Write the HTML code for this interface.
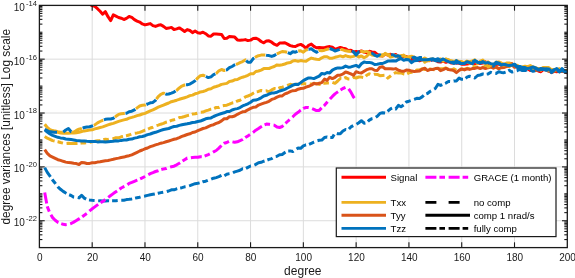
<!DOCTYPE html>
<html><head><meta charset="utf-8"><title>degree variances</title>
<style>
html,body{margin:0;padding:0;background:#fff;}
body{width:575px;height:278px;overflow:hidden;font-family:"Liberation Sans",sans-serif;}
svg{display:block;font-family:"Liberation Sans",sans-serif;}
text{filter:grayscale(1);}
</style></head><body>
<svg width="575" height="278" viewBox="0 0 575 278">
<rect x="0" y="0" width="575" height="278" fill="#ffffff"/>
<defs><clipPath id="c"><rect x="39.40" y="5.40" width="527.90" height="242.20"/></clipPath></defs>
<g stroke="#dcdcdc" stroke-width="1" fill="none">
<line x1="92.19" y1="5.40" x2="92.19" y2="247.60"/>
<line x1="144.98" y1="5.40" x2="144.98" y2="247.60"/>
<line x1="197.77" y1="5.40" x2="197.77" y2="247.60"/>
<line x1="250.56" y1="5.40" x2="250.56" y2="247.60"/>
<line x1="303.35" y1="5.40" x2="303.35" y2="247.60"/>
<line x1="356.14" y1="5.40" x2="356.14" y2="247.60"/>
<line x1="408.93" y1="5.40" x2="408.93" y2="247.60"/>
<line x1="461.72" y1="5.40" x2="461.72" y2="247.60"/>
<line x1="514.51" y1="5.40" x2="514.51" y2="247.60"/>
<line x1="39.40" y1="59.16" x2="567.30" y2="59.16"/>
<line x1="39.40" y1="113.02" x2="567.30" y2="113.02"/>
<line x1="39.40" y1="166.88" x2="567.30" y2="166.88"/>
<line x1="39.40" y1="220.74" x2="567.30" y2="220.74"/>
</g>
<g clip-path="url(#c)" fill="none" stroke-linejoin="round" stroke-linecap="butt">
<path d="M86.9 1.8 L89.6 4.1 L92.2 5.6 L94.8 6.4 L97.5 8.7 L100.1 11.3 L102.7 14.2 L105.4 11.7 L108.0 16.7 L110.7 20.6 L113.3 14.9 L115.9 16.2 L118.6 17.5 L121.2 18.2 L123.9 19.5 L126.5 18.4 L129.1 16.5 L131.8 17.4 L134.4 19.6 L137.1 21.1 L139.7 22.1 L142.3 23.9 L145.0 24.9 L147.6 24.3 L150.3 23.6 L152.9 25.6 L155.5 26.4 L158.2 25.3 L160.8 24.8 L163.5 26.4 L166.1 28.4 L168.7 28.1 L171.4 27.4 L174.0 29.5 L176.7 28.9 L179.3 27.9 L181.9 29.5 L184.6 31.5 L187.2 29.6 L189.9 30.5 L192.5 32.6 L195.1 31.0 L197.8 32.7 L200.4 33.2 L203.0 32.2 L205.7 33.7 L208.3 35.9 L211.0 36.2 L213.6 34.0 L216.2 34.1 L218.9 34.2 L221.5 34.4 L224.2 38.5 L226.8 38.2 L229.4 36.5 L232.1 36.8 L234.7 37.1 L237.4 39.9 L240.0 40.2 L242.6 40.1 L245.3 39.6 L247.9 40.6 L250.6 40.1 L253.2 38.5 L255.8 38.2 L258.5 39.3 L261.1 41.5 L263.8 42.8 L266.4 41.1 L269.0 40.8 L271.7 42.2 L274.3 44.2 L277.0 45.3 L279.6 43.1 L282.2 43.1 L284.9 42.7 L287.5 44.1 L290.2 45.6 L292.8 46.3 L295.4 46.5 L298.1 45.1 L300.7 44.4 L303.3 45.9 L306.0 48.2 L308.6 45.3 L311.3 44.1 L313.9 46.4 L316.5 47.8 L319.2 47.4 L321.8 47.8 L324.5 47.7 L327.1 47.0 L329.7 46.6 L332.4 47.3 L335.0 49.3 L337.7 48.3 L340.3 47.4 L342.9 48.2 L345.6 48.8 L348.2 50.6 L350.9 50.3 L353.5 51.9 L356.1 51.6 L358.8 52.0 L361.4 51.0 L364.1 52.1 L366.7 52.7 L369.3 51.3 L372.0 51.9 L374.6 52.3 L377.3 54.4 L379.9 55.8 L382.5 55.9 L385.2 54.2 L387.8 55.1 L390.5 54.2 L393.1 55.6 L395.7 54.5 L398.4 56.8 L401.0 56.4 L403.7 56.3 L406.3 56.4 L408.9 58.7 L411.6 59.9 L414.2 57.3 L416.8 60.1 L419.5 60.7 L422.1 59.9 L424.8 58.9 L427.4 60.7 L430.0 60.1 L432.7 60.1 L435.3 60.0 L438.0 61.7 L440.6 62.1 L443.2 61.2 L445.9 62.3 L448.5 61.3 L451.2 63.1 L453.8 62.9 L456.4 63.0 L459.1 63.3 L461.7 64.2 L464.4 64.2 L467.0 64.1 L469.6 63.5 L472.3 63.1 L474.9 63.4 L477.6 63.1 L480.2 63.6 L482.8 63.1 L485.5 61.9 L488.1 65.4 L490.8 67.1 L493.4 66.2 L496.0 64.6 L498.7 64.1 L501.3 65.1 L504.0 66.3 L506.6 65.4 L509.2 65.5 L511.9 65.2 L514.5 66.6 L517.1 67.0 L519.8 68.2 L522.4 68.1 L525.1 69.1 L527.7 68.8 L530.3 70.5 L533.0 68.4 L535.6 69.8 L538.3 71.0 L540.9 71.7 L543.5 69.4 L546.2 69.7 L548.8 70.5 L551.5 72.4 L554.1 71.3 L556.7 71.7 L559.4 70.9 L562.0 70.5 L564.7 71.9 L567.3 72.7" stroke="#FF0000" stroke-width="3.0"/>
<path d="M44.7 124.2 L47.3 127.5 L50.0 129.6 L52.6 130.6 L55.2 131.8 L57.9 132.4 L60.5 133.1 L63.2 133.2 L65.8 133.3 L68.4 133.2 L71.1 133.1 L73.7 133.1 L76.4 132.7 L79.0 132.3 L81.6 131.5 L84.3 130.9 L86.9 130.5 L89.6 130.0 L92.2 129.8 L94.8 128.9 L97.5 128.2 L100.1 127.5 L102.7 126.9 L105.4 125.9 L108.0 124.9 L110.7 124.0 L113.3 123.4 L115.9 122.4 L118.6 121.4 L121.2 120.6 L123.9 119.9 L126.5 119.3 L129.1 118.1 L131.8 117.4 L134.4 116.6 L137.1 115.6 L139.7 115.0 L142.3 114.0 L145.0 113.4 L147.6 112.1 L150.3 110.8 L152.9 109.9 L155.5 108.6 L158.2 107.2 L160.8 106.2 L163.5 105.1 L166.1 104.0 L168.7 103.0 L171.4 101.7 L174.0 101.0 L176.7 100.2 L179.3 99.3 L181.9 98.5 L184.6 97.7 L187.2 96.9 L189.9 95.6 L192.5 95.1 L195.1 93.8 L197.8 93.1 L200.4 91.9 L203.0 91.5 L205.7 90.6 L208.3 89.2 L211.0 88.7 L213.6 87.2 L216.2 86.5 L218.9 85.6 L221.5 84.4 L224.2 83.9 L226.8 83.4 L229.4 81.5 L232.1 81.1 L234.7 79.8 L237.4 79.5 L240.0 78.1 L242.6 77.2 L245.3 76.4 L247.9 75.3 L250.6 73.7 L253.2 73.8 L255.8 71.5 L258.5 71.0 L261.1 70.1 L263.8 68.6 L266.4 68.5 L269.0 68.5 L271.7 67.4 L274.3 66.5 L277.0 64.9 L279.6 65.2 L282.2 64.7 L284.9 64.0 L287.5 62.9 L290.2 62.6 L292.8 61.0 L295.4 60.6 L298.1 61.2 L300.7 60.6 L303.3 61.0 L306.0 61.2 L308.6 59.5 L311.3 58.1 L313.9 58.8 L316.5 59.3 L319.2 59.5 L321.8 57.8 L324.5 56.7 L327.1 56.7 L329.7 58.2 L332.4 58.2 L335.0 57.3 L337.7 56.6 L340.3 55.9 L342.9 56.8 L345.6 55.6 L348.2 56.6 L350.9 56.9 L353.5 56.4 L356.1 55.0 L358.8 57.0 L361.4 55.9 L364.1 57.8 L366.7 56.3 L369.3 53.4 L372.0 55.1 L374.6 55.6 L377.3 55.6 L379.9 55.9 L382.5 54.6 L385.2 54.1 L387.8 54.7 L390.5 57.1 L393.1 56.4 L395.7 55.3 L398.4 56.5 L401.0 55.6 L403.7 55.7 L406.3 57.5 L408.9 56.8 L411.6 56.2 L414.2 57.3 L416.8 58.5 L419.5 58.7 L422.1 59.9 L424.8 58.1 L427.4 59.5 L430.0 59.3 L432.7 59.0 L435.3 60.1 L438.0 60.0 L440.6 58.9 L443.2 61.0 L445.9 58.9 L448.5 60.4 L451.2 60.7 L453.8 61.5 L456.4 60.7 L459.1 61.5 L461.7 61.6 L464.4 62.8 L467.0 61.1 L469.6 61.7 L472.3 61.0 L474.9 59.9 L477.6 63.6 L480.2 61.2 L482.8 60.1 L485.5 63.1 L488.1 61.8 L490.8 64.1 L493.4 64.8 L496.0 62.3 L498.7 62.0 L501.3 63.0 L504.0 64.3 L506.6 63.0 L509.2 63.0 L511.9 63.9 L514.5 65.5 L517.1 65.9 L519.8 67.5 L522.4 67.0 L525.1 66.2 L527.7 66.7 L530.3 65.6 L533.0 67.0 L535.6 67.6 L538.3 68.8 L540.9 68.8 L543.5 67.4 L546.2 67.4 L548.8 67.6 L551.5 69.6 L554.1 69.9 L556.7 69.8 L559.4 68.7 L562.0 71.0 L564.7 70.8 L567.3 70.5" stroke="#EDB120" stroke-width="3.0"/>
<path d="M44.7 136.5 L47.3 138.2 L50.0 139.3 L52.6 140.6 L55.2 141.2 L57.9 141.7 L60.5 142.5 L63.2 143.2 L65.8 143.5 L68.4 143.3 L71.1 143.6 L73.7 143.4 L76.4 143.5 L79.0 143.4 L81.6 143.0 L84.3 143.0 L86.9 142.5 L89.6 142.4 L92.2 141.8 L94.8 141.3 L97.5 140.7 L100.1 140.4 L102.7 139.9 L105.4 139.2 L108.0 139.4 L110.7 138.8 L113.3 138.6 L115.9 137.8 L118.6 137.8 L121.2 136.8 L123.9 136.2 L126.5 135.7 L129.1 135.0 L131.8 133.8 L134.4 133.3 L137.1 132.9 L139.7 132.4 L142.3 131.3 L145.0 130.1 L147.6 129.3 L150.3 128.0 L152.9 127.2 L155.5 125.9 L158.2 125.1 L160.8 124.2 L163.5 123.4 L166.1 122.2 L168.7 121.5 L171.4 120.4 L174.0 119.7 L176.7 118.8 L179.3 117.6 L181.9 117.2 L184.6 116.5 L187.2 115.6 L189.9 115.1 L192.5 114.1 L195.1 113.8 L197.8 113.1 L200.4 112.3 L203.0 112.1 L205.7 110.9 L208.3 110.1 L211.0 109.1 L213.6 108.6 L216.2 107.5 L218.9 107.4 L221.5 106.0 L224.2 105.5 L226.8 105.2 L229.4 104.2 L232.1 103.0 L234.7 102.5 L237.4 101.0 L240.0 100.3 L242.6 98.7 L245.3 96.9 L247.9 96.0 L250.6 94.9 L253.2 93.2 L255.8 91.8 L258.5 91.4 L261.1 90.5 L263.8 91.1 L266.4 90.8 L269.0 91.8 L271.7 89.9 L274.3 88.6 L277.0 89.0 L279.6 87.8 L282.2 87.2 L284.9 86.4 L287.5 85.3 L290.2 84.3 L292.8 84.9 L295.4 84.6 L298.1 84.0 L300.7 84.0 L303.3 83.5 L306.0 84.0 L308.6 84.2 L311.3 84.0 L313.9 83.9 L316.5 83.4 L319.2 84.4 L321.8 83.2 L324.5 83.3 L327.1 82.9 L329.7 83.0 L332.4 82.3 L335.0 83.3 L337.7 81.0 L340.3 78.5 L342.9 78.8 L345.6 77.6 L348.2 79.0 L350.9 79.1 L353.5 77.4 L356.1 78.0 L358.8 77.0 L361.4 77.1 L364.1 77.6 L366.7 75.3 L369.3 73.8 L372.0 74.9 L374.6 74.2 L377.3 74.4 L379.9 75.7 L382.5 75.5 L385.2 75.3 L387.8 78.1 L390.5 76.0 L393.1 73.9 L395.7 72.6 L398.4 73.1 L401.0 72.8 L403.7 74.0 L406.3 74.4 L408.9 72.8 L411.6 72.2 L414.2 71.4 L416.8 70.0 L419.5 69.9 L422.1 68.9 L424.8 69.5 L427.4 68.8 L430.0 69.0 L432.7 69.5 L435.3 70.0 L438.0 70.0 L440.6 68.7 L443.2 68.7 L445.9 68.0 L448.5 69.3 L451.2 70.1 L453.8 68.8 L456.4 70.3 L459.1 69.3 L461.7 69.2 L464.4 69.2 L467.0 68.3 L469.6 68.9 L472.3 66.3 L474.9 66.7 L477.6 67.2 L480.2 66.4 L482.8 67.6 L485.5 66.1 L488.1 67.3 L490.8 65.9 L493.4 66.9 L496.0 67.3 L498.7 68.5 L501.3 67.4 L504.0 67.5 L506.6 65.6 L509.2 66.7 L511.9 64.8 L514.5 65.3 L517.1 65.3 L519.8 67.1 L522.4 68.1 L525.1 67.0 L527.7 67.5 L530.3 67.8 L533.0 68.5 L535.6 68.9 L538.3 68.5 L540.9 70.2 L543.5 67.3 L546.2 68.1 L548.8 70.0 L551.5 71.3 L554.1 70.5 L556.7 70.2 L559.4 70.2 L562.0 70.2 L564.7 71.4 L567.3 71.2" stroke="#EDB120" stroke-width="3.0" stroke-dasharray="11 3 5.6 3.6" stroke-dashoffset="0"/>
<path d="M44.7 149.6 L47.3 153.3 L50.0 155.9 L52.6 157.1 L55.2 158.4 L57.9 159.7 L60.5 160.4 L63.2 161.3 L65.8 162.1 L68.4 162.6 L71.1 162.8 L73.7 163.3 L76.4 163.6 L79.0 164.5 L81.6 162.4 L84.3 162.8 L86.9 163.5 L89.6 163.4 L92.2 162.7 L94.8 162.7 L97.5 162.1 L100.1 161.7 L102.7 161.2 L105.4 160.8 L108.0 160.5 L110.7 159.9 L113.3 159.3 L115.9 158.6 L118.6 158.1 L121.2 157.5 L123.9 157.1 L126.5 156.3 L129.1 155.7 L131.8 154.8 L134.4 153.6 L137.1 152.3 L139.7 151.0 L142.3 150.0 L145.0 148.8 L147.6 148.0 L150.3 146.7 L152.9 145.8 L155.5 144.9 L158.2 144.1 L160.8 143.2 L163.5 142.6 L166.1 141.8 L168.7 141.0 L171.4 140.1 L174.0 139.3 L176.7 138.7 L179.3 137.6 L181.9 136.4 L184.6 135.5 L187.2 134.5 L189.9 133.8 L192.5 132.5 L195.1 132.0 L197.8 130.7 L200.4 129.6 L203.0 128.5 L205.7 127.9 L208.3 126.6 L211.0 125.4 L213.6 124.7 L216.2 123.4 L218.9 122.5 L221.5 120.9 L224.2 118.8 L226.8 118.7 L229.4 116.7 L232.1 116.8 L234.7 116.0 L237.4 114.3 L240.0 113.0 L242.6 111.8 L245.3 111.4 L247.9 109.8 L250.6 108.4 L253.2 107.3 L255.8 107.0 L258.5 105.1 L261.1 104.2 L263.8 103.2 L266.4 102.3 L269.0 101.3 L271.7 99.4 L274.3 98.6 L277.0 97.2 L279.6 96.1 L282.2 95.9 L284.9 93.9 L287.5 93.0 L290.2 91.6 L292.8 90.7 L295.4 90.6 L298.1 89.2 L300.7 88.5 L303.3 88.3 L306.0 87.1 L308.6 86.3 L311.3 85.2 L313.9 83.3 L316.5 84.1 L319.2 83.3 L321.8 82.6 L324.5 79.1 L327.1 80.4 L329.7 77.3 L332.4 78.6 L335.0 77.3 L337.7 75.2 L340.3 75.2 L342.9 74.0 L345.6 72.0 L348.2 72.8 L350.9 73.9 L353.5 75.3 L356.1 71.7 L358.8 72.6 L361.4 73.1 L364.1 71.3 L366.7 69.7 L369.3 68.8 L372.0 68.8 L374.6 70.2 L377.3 70.4 L379.9 67.2 L382.5 66.7 L385.2 68.8 L387.8 68.7 L390.5 68.8 L393.1 69.1 L395.7 68.6 L398.4 70.2 L401.0 70.9 L403.7 71.3 L406.3 70.1 L408.9 70.2 L411.6 71.1 L414.2 71.5 L416.8 71.3 L419.5 71.0 L422.1 69.2 L424.8 68.2 L427.4 70.5 L430.0 69.5 L432.7 69.5 L435.3 68.6 L438.0 68.2 L440.6 70.7 L443.2 69.7 L445.9 68.2 L448.5 69.6 L451.2 69.9 L453.8 70.6 L456.4 72.6 L459.1 70.4 L461.7 68.9 L464.4 69.9 L467.0 68.8 L469.6 69.4 L472.3 68.6 L474.9 68.4 L477.6 67.6 L480.2 68.5 L482.8 67.6 L485.5 68.6 L488.1 67.7 L490.8 66.9 L493.4 68.2 L496.0 67.0 L498.7 68.8 L501.3 67.7 L504.0 67.4 L506.6 66.5 L509.2 65.8 L511.9 63.7 L514.5 67.3 L517.1 66.4 L519.8 68.6 L522.4 67.5 L525.1 68.2 L527.7 68.4 L530.3 68.1 L533.0 69.4 L535.6 70.5 L538.3 70.0 L540.9 69.0 L543.5 69.0 L546.2 69.7 L548.8 71.4 L551.5 72.1 L554.1 71.6 L556.7 70.4 L559.4 71.7 L562.0 71.2 L564.7 71.4 L567.3 73.0" stroke="#D95319" stroke-width="3.0"/>
<path d="M51.9 130.3 L52.6 130.8 L55.2 131.0 L57.9 131.7 L60.5 132.3 L62.5 132.2 M72.1 131.9 L73.7 132.3 L76.4 130.4 L79.0 129.1 L81.6 128.4 L81.9 128.3 M93.8 125.3 L94.8 124.9 L97.5 122.9 L100.1 121.5 L102.7 120.3 L103.3 120.1 M114.9 117.1 L115.9 116.3 L118.6 114.4 L121.2 113.8 L123.9 113.4 L124.8 113.3 M136.0 108.7 L137.1 107.9 L139.7 106.0 L142.3 105.3 L145.0 105.1 L145.8 104.8 M156.4 99.2 L158.2 96.6 L160.8 94.3 L163.5 93.2 L164.8 93.7 M176.2 90.6 L176.7 90.3 L179.3 87.9 L181.9 86.1 L184.6 85.0 L185.3 84.9 M196.1 79.7 L197.8 77.9 L200.4 75.7 L203.0 75.2 L205.1 76.2 M216.0 73.6 L216.2 73.5 L218.9 70.8 L221.5 69.5 L224.2 70.5 L225.2 70.3 M235.9 64.4 L237.4 64.0 L240.0 62.6 L242.6 61.6 L245.3 59.9 L245.5 60.1 M254.9 57.5 L255.8 56.9 L258.5 55.7 L261.1 55.1 L263.8 54.9 L265.3 55.1 M276.8 53.9 L277.0 53.8 L279.6 52.7 L282.2 51.5 L284.9 51.7 L287.1 52.3 M298.2 51.1 L300.7 50.8 L303.3 52.2 L306.0 49.9 L307.8 49.6 M318.5 50.8 L319.2 50.4 L321.8 50.8 L324.5 50.2 L327.1 49.3 L329.0 48.7 M340.4 49.3 L342.9 49.8 L345.6 50.8 L348.2 51.2 L350.9 51.6 L351.0 51.6 M360.2 51.5 L361.4 51.3 L364.1 52.0 L366.7 51.4 L369.3 52.4 L370.7 52.7 M381.3 55.5 L382.5 56.2 L385.2 53.3 L387.8 54.7 L390.4 54.7 M401.7 56.4 L403.7 55.0 L406.3 57.6 L408.9 58.0 L411.0 58.2 M422.4 57.8 L424.8 62.2 L427.4 60.3 L430.0 61.1 M441.4 61.0 L443.2 60.8 L445.9 60.8 L448.5 59.5 L451.0 61.9 M462.2 63.8 L464.4 62.4 L467.0 61.7 L469.6 63.3 L471.8 62.1 M483.5 62.7 L485.5 63.2 L488.1 67.0 L490.8 65.3 L491.8 65.6 M501.2 64.9 L501.3 64.9 L504.0 65.1 L506.6 64.6 L509.2 65.3 L511.9 64.7 L511.9 64.7 M523.2 67.4 L525.1 67.2 L527.7 68.1 L530.3 68.7 L533.0 69.2 L533.8 68.9 M545.8 69.4 L546.2 69.4 L548.8 70.3 L551.5 69.8 L554.1 70.1 L556.4 69.6" stroke="#EDB120" stroke-width="3.0"/>
<path d="M63.2 132.2 L65.8 130.0 L68.4 128.5 L71.1 131.7 L71.4 131.8 M82.6 128.1 L84.3 127.5 L86.9 127.0 L89.6 126.8 L92.2 126.0 L93.1 125.6 M103.9 119.8 L105.4 119.3 L108.0 119.1 L110.7 119.0 L113.3 118.3 L114.4 117.5 M125.5 113.3 L126.5 113.2 L129.1 111.7 L131.8 111.2 L134.4 109.9 L135.4 109.2 M146.4 104.5 L147.6 104.0 L150.3 102.8 L152.9 102.4 L155.5 100.3 L155.9 99.7 M165.4 93.9 L166.1 94.2 L168.7 94.0 L171.4 93.1 L174.0 92.1 L175.6 91.0 M186.0 84.8 L187.2 84.7 L189.9 84.1 L192.5 82.4 L195.1 80.7 L195.6 80.2 M205.8 76.5 L208.3 77.6 L211.0 76.9 L213.6 74.7 L215.4 73.9 M225.9 70.1 L226.8 69.9 L229.4 67.7 L232.1 66.5 L234.7 64.8 L235.2 64.6 M246.1 60.6 L247.9 62.2 L250.6 62.2 L253.2 58.6 L254.3 57.9 M266.0 55.2 L266.4 55.3 L269.0 55.6 L271.7 56.4 L274.3 55.5 L276.2 54.3 M287.8 52.6 L290.2 53.7 L292.8 51.7 L295.4 52.2 L297.5 51.4 M308.5 49.4 L308.6 49.4 L311.3 48.8 L313.9 50.7 L316.5 52.3 L318.0 51.2 M329.6 48.5 L329.7 48.5 L332.4 49.5 L335.0 51.0 L337.7 50.1 L339.7 49.4 M351.7 51.6 L353.5 51.8 L356.1 55.0 L358.8 51.7 L359.5 51.6 M371.3 52.9 L372.0 53.1 L374.6 55.1 L377.3 56.3 L379.9 54.7 L380.7 55.2 M391.1 54.7 L393.1 54.7 L395.7 56.3 L398.4 55.8 L401.0 57.0 L401.2 56.8 M411.7 58.2 L414.2 57.2 L416.8 58.5 L419.5 57.6 L422.0 57.4 M430.6 60.8 L432.7 59.5 L435.3 60.7 L438.0 61.0 L440.6 61.2 L440.7 61.1 M451.6 62.1 L453.8 62.3 L456.4 63.2 L459.1 62.2 L461.6 64.0 M472.4 61.7 L474.9 61.0 L477.6 62.2 L480.2 62.8 L482.8 62.6 M492.4 65.9 L493.4 66.2 L496.0 62.2 L498.7 63.6 L500.6 64.6 M512.6 64.8 L514.5 65.0 L517.1 67.2 L519.8 68.0 L522.4 67.5 L522.5 67.5 M534.5 68.7 L535.6 68.2 L538.3 69.3 L540.9 69.4 L543.5 69.1 L545.1 69.3 M557.0 69.7 L559.4 71.4 L562.0 70.5 L564.7 71.2 L567.0 72.1 M44.7 129.3 L49 131.6 L54 132.3 L57 132.3" stroke="#0072BD" stroke-width="3.0"/>
<path d="M44.7 129.8 L47.3 132.0 L50.0 134.0 L52.6 135.4 L55.2 136.3 L57.9 137.3 L60.5 137.9 L63.2 138.2 L65.8 139.0 L68.4 139.3 L71.1 139.6 L73.7 140.0 L76.4 140.5 L79.0 140.7 L81.6 140.9 L84.3 140.9 L86.9 141.3 L89.6 141.4 L92.2 141.5 L94.8 141.4 L97.5 141.9 L100.1 141.7 L102.7 141.7 L105.4 142.1 L108.0 141.7 L110.7 141.4 L113.3 141.3 L115.9 140.7 L118.6 140.9 L121.2 140.4 L123.9 140.1 L126.5 140.0 L129.1 139.2 L131.8 139.1 L134.4 138.1 L137.1 137.6 L139.7 136.8 L142.3 136.5 L145.0 135.7 L147.6 134.6 L150.3 134.0 L152.9 133.0 L155.5 132.3 L158.2 131.3 L160.8 130.4 L163.5 129.5 L166.1 129.0 L168.7 128.5 L171.4 127.4 L174.0 126.5 L176.7 126.2 L179.3 125.4 L181.9 124.8 L184.6 124.3 L187.2 123.8 L189.9 123.2 L192.5 122.5 L195.1 122.3 L197.8 121.5 L200.4 121.1 L203.0 120.0 L205.7 118.8 L208.3 118.3 L211.0 117.9 L213.6 116.5 L216.2 115.4 L218.9 114.4 L221.5 113.5 L224.2 112.8 L226.8 111.6 L229.4 111.5 L232.1 110.0 L234.7 109.1 L237.4 108.6 L240.0 107.6 L242.6 105.9 L245.3 104.9 L247.9 103.8 L250.6 102.2 L253.2 100.3 L255.8 100.1 L258.5 99.1 L261.1 97.8 L263.8 96.0 L266.4 95.3 L269.0 94.0 L271.7 93.1 L274.3 92.9 L277.0 92.2 L279.6 91.0 L282.2 90.2 L284.9 89.4 L287.5 88.0 L290.2 86.7 L292.8 85.1 L295.4 84.3 L298.1 84.5 L300.7 82.6 L303.3 80.6 L306.0 79.2 L308.6 77.9 L311.3 78.1 L313.9 78.6 L316.5 77.4 L319.2 76.1 L321.8 73.4 L324.5 74.0 L327.1 72.5 L329.7 72.9 L332.4 70.1 L335.0 68.7 L337.7 67.9 L340.3 68.1 L342.9 67.6 L345.6 66.0 L348.2 67.2 L350.9 66.9 L353.5 66.1 L356.1 65.4 L358.8 67.0 L361.4 63.8 L364.1 61.9 L366.7 62.6 L369.3 62.4 L372.0 63.0 L374.6 64.5 L377.3 64.2 L379.9 63.6 L382.5 63.5 L385.2 62.3 L387.8 61.1 L390.5 61.1 L393.1 60.7 L395.7 61.1 L398.4 59.5 L401.0 58.5 L403.7 60.3 L406.3 59.5 L408.9 59.8 L411.6 62.6 L414.2 60.7 L416.8 60.6 L419.5 59.8 L422.1 59.7 L424.8 59.8 L427.4 59.7 L430.0 59.2 L432.7 58.8 L435.3 59.6 L438.0 58.7 L440.6 60.4 L443.2 58.9 L445.9 60.6 L448.5 61.7 L451.2 62.4 L453.8 63.4 L456.4 60.6 L459.1 63.0 L461.7 63.6 L464.4 63.5 L467.0 61.7 L469.6 62.7 L472.3 63.7 L474.9 60.4 L477.6 62.3 L480.2 63.0 L482.8 61.6 L485.5 63.1 L488.1 62.5 L490.8 63.7 L493.4 64.0 L496.0 63.8 L498.7 63.0 L501.3 65.0 L504.0 64.3 L506.6 65.0 L509.2 65.6 L511.9 65.2 L514.5 64.2 L517.1 66.7 L519.8 66.4 L522.4 67.4 L525.1 67.6 L527.7 68.6 L530.3 68.0 L533.0 67.0 L535.6 68.0 L538.3 69.9 L540.9 68.8 L543.5 69.4 L546.2 68.8 L548.8 68.9 L551.5 71.3 L554.1 69.8 L556.7 68.6 L559.4 71.6 L562.0 68.7 L564.7 71.1 L567.3 72.0" stroke="#0072BD" stroke-width="3.0"/>
<path d="M44.7 167.6 L47.3 172.4 L50.0 176.2 L52.6 180.0 L55.2 183.3 L57.9 186.8 L60.5 189.3 L63.2 191.4 L65.8 193.0 L68.4 194.5 L71.1 195.5 L73.7 197.1 L76.4 197.4 L79.0 197.9 L81.6 195.3 L84.3 198.1 L86.9 199.5 L89.6 200.0 L92.2 200.3 L94.8 200.5 L97.5 200.9 L100.1 200.8 L102.7 200.9 L105.4 201.1 L108.0 200.7 L110.7 200.8 L113.3 200.8 L115.9 200.8 L118.6 200.5 L121.2 200.2 L123.9 200.2 L126.5 199.6 L129.1 199.3 L131.8 198.9 L134.4 198.3 L137.1 197.7 L139.7 197.2 L142.3 196.4 L145.0 196.0 L147.6 195.4 L150.3 194.8 L152.9 194.3 L155.5 193.8 L158.2 193.2 L160.8 192.6 L163.5 192.1 L166.1 191.7 L168.7 191.0 L171.4 189.8 L174.0 189.8 L176.7 188.8 L179.3 188.1 L181.9 187.7 L184.6 186.8 L187.2 186.5 L189.9 185.6 L192.5 184.6 L195.1 183.7 L197.8 183.3 L200.4 182.7 L203.0 181.7 L205.7 181.2 L208.3 180.1 L211.0 179.3 L213.6 178.2 L216.2 177.6 L218.9 176.7 L221.5 175.4 L224.2 175.9 L226.8 174.3 L229.4 173.6 L232.1 173.2 L234.7 171.9 L237.4 171.1 L240.0 170.3 L242.6 168.7 L245.3 168.8 L247.9 167.4 L250.6 166.0 L253.2 165.6 L255.8 164.4 L258.5 162.8 L261.1 162.3 L263.8 161.2 L266.4 160.4 L269.0 159.4 L271.7 158.6 L274.3 156.7 L277.0 156.3 L279.6 154.8 L282.2 154.5 L284.9 152.5 L287.5 151.0 L290.2 150.9 L292.8 151.5 L295.4 149.6 L298.1 148.0 L300.7 148.3 L303.3 145.8 L306.0 144.8 L308.6 144.5 L311.3 143.3 L313.9 142.1 L316.5 141.0 L319.2 140.3 L321.8 140.1 L324.5 137.5 L327.1 137.0 L329.7 137.5 L332.4 137.5 L335.0 133.0 L337.7 133.8 L340.3 133.7 L342.9 131.0 L345.6 129.5 L348.2 129.8 L350.9 126.9 L353.5 125.5 L356.1 124.5 L358.8 122.7 L361.4 120.7 L364.1 123.2 L366.7 122.7 L369.3 120.1 L372.0 118.6 L374.6 118.1 L377.3 116.2 L379.9 113.4 L382.5 112.7 L385.2 113.1 L387.8 111.2 L390.5 108.9 L393.1 107.8 L395.7 109.0 L398.4 105.4 L401.0 106.8 L403.7 104.9 L406.3 102.0 L408.9 101.2 L411.6 100.3 L414.2 99.4 L416.8 98.3 L419.5 98.5 L422.1 96.9 L424.8 94.4 L427.4 93.5 L430.0 91.5 L432.7 90.0 L435.3 88.5 L438.0 84.3 L440.6 85.4 L443.2 84.2 L445.9 83.1 L448.5 81.4 L451.2 81.6 L453.8 80.9 L456.4 81.1 L459.1 78.1 L461.7 79.3 L464.4 79.3 L467.0 77.2 L469.6 76.2 L472.3 76.9 L474.9 78.0 L477.6 75.5 L480.2 75.0 L482.8 74.0 L485.5 74.3 L488.1 73.9 L490.8 72.3 L493.4 73.2 L496.0 73.4 L498.7 71.7 L501.3 72.4 L504.0 72.7 L506.6 71.8 L509.2 70.3 L511.9 72.0 L514.5 71.4 L517.1 70.7 L519.8 69.4 L522.4 70.6 L525.1 70.6 L527.7 69.7 L530.3 70.0 L533.0 71.3 L535.6 70.7 L538.3 71.1 L540.9 68.6 L543.5 69.2 L546.2 70.3 L548.8 69.6 L551.5 72.6 L554.1 70.1 L556.7 70.4 L559.4 71.9 L562.0 69.2 L564.7 71.9 L567.3 71.0" stroke="#0072BD" stroke-width="3.0" stroke-dasharray="11 3 5.6 3.6" stroke-dashoffset="0"/>
<path d="M44.7 192.6 L47.3 206.6 L50.0 213.3 L52.6 217.6 L55.2 220.3 L57.9 222.3 L60.5 223.4 L63.2 224.3 L65.8 224.7 L68.4 224.4 L71.1 223.5 L73.7 222.1 L76.4 220.5 L79.0 218.9 L81.6 217.3 L84.3 215.2 L86.9 213.4 L89.6 210.9 L92.2 208.8 L94.8 206.9 L97.5 204.9 L100.1 203.0 L102.7 201.4 L105.4 199.5 L108.0 197.6 L110.7 195.5 L113.3 193.6 L115.9 191.8 L118.6 189.9 L121.2 188.0 L123.9 186.7 L126.5 185.6 L129.1 183.4 L131.8 182.4 L134.4 181.3 L137.1 180.2 L139.7 179.1 L142.3 177.8 L145.0 176.5 L147.6 175.1 L150.3 173.6 L152.9 172.6 L155.5 171.5 L158.2 170.7 L160.8 169.7 L163.5 168.9 L166.1 168.6 L168.7 167.5 L171.4 166.7 L174.0 166.2 L176.7 164.8 L179.3 163.3 L181.9 161.5 L184.6 159.7 L187.2 158.1 L189.9 157.9 L192.5 157.5 L195.1 157.3 L197.8 157.3 L200.4 156.7 L203.0 156.8 L205.7 155.7 L208.3 154.6 L211.0 153.3 L213.6 151.8 L216.2 150.5 L218.9 148.1 L221.5 145.4 L224.2 143.3 L226.8 142.5 L229.4 141.2 L232.1 141.8 L234.7 142.3 L237.4 141.8 L240.0 140.7 L242.6 139.5 L245.3 137.6 L247.9 135.9 L250.6 134.2 L253.2 132.3 L255.8 130.2 L258.5 128.5 L261.1 126.7 L263.8 125.1 L266.4 124.1 L269.0 124.3 L271.7 124.8 L274.3 125.2 L277.0 127.0 L279.6 127.5 L282.2 126.5 L284.9 123.8 L287.5 121.5 L290.2 119.1 L292.8 116.8 L295.4 114.2 L298.1 112.3 L300.7 110.1 L303.3 108.4 L306.0 107.5 L308.6 107.6 L311.3 108.2 L313.9 109.3 L316.5 110.6 L319.2 110.4 L321.8 107.7 L324.5 105.3 L327.1 102.3 L329.7 99.3 L332.4 96.4 L335.0 93.9 L337.7 91.9 L340.3 90.1 L342.9 88.5 L345.6 87.4 L348.2 88.2 L350.9 92.1 L353.5 97.0 L356.1 100.2" stroke="#FF00FF" stroke-width="3.0" stroke-dasharray="11 3 5.6 3.6" stroke-dashoffset="0"/>
</g>
<g stroke="#1a1a1a" stroke-width="1.1" fill="none">
<line x1="92.19" y1="247.60" x2="92.19" y2="242.30"/>
<line x1="92.19" y1="5.40" x2="92.19" y2="10.70"/>
<line x1="144.98" y1="247.60" x2="144.98" y2="242.30"/>
<line x1="144.98" y1="5.40" x2="144.98" y2="10.70"/>
<line x1="197.77" y1="247.60" x2="197.77" y2="242.30"/>
<line x1="197.77" y1="5.40" x2="197.77" y2="10.70"/>
<line x1="250.56" y1="247.60" x2="250.56" y2="242.30"/>
<line x1="250.56" y1="5.40" x2="250.56" y2="10.70"/>
<line x1="303.35" y1="247.60" x2="303.35" y2="242.30"/>
<line x1="303.35" y1="5.40" x2="303.35" y2="10.70"/>
<line x1="356.14" y1="247.60" x2="356.14" y2="242.30"/>
<line x1="356.14" y1="5.40" x2="356.14" y2="10.70"/>
<line x1="408.93" y1="247.60" x2="408.93" y2="242.30"/>
<line x1="408.93" y1="5.40" x2="408.93" y2="10.70"/>
<line x1="461.72" y1="247.60" x2="461.72" y2="242.30"/>
<line x1="461.72" y1="5.40" x2="461.72" y2="10.70"/>
<line x1="514.51" y1="247.60" x2="514.51" y2="242.30"/>
<line x1="514.51" y1="5.40" x2="514.51" y2="10.70"/>
<line x1="39.40" y1="239.56" x2="42.40" y2="239.56"/>
<line x1="567.30" y1="239.56" x2="564.30" y2="239.56"/>
<line x1="39.40" y1="234.82" x2="42.40" y2="234.82"/>
<line x1="567.30" y1="234.82" x2="564.30" y2="234.82"/>
<line x1="39.40" y1="231.46" x2="42.40" y2="231.46"/>
<line x1="567.30" y1="231.46" x2="564.30" y2="231.46"/>
<line x1="39.40" y1="228.85" x2="42.40" y2="228.85"/>
<line x1="567.30" y1="228.85" x2="564.30" y2="228.85"/>
<line x1="39.40" y1="226.71" x2="42.40" y2="226.71"/>
<line x1="567.30" y1="226.71" x2="564.30" y2="226.71"/>
<line x1="39.40" y1="224.91" x2="42.40" y2="224.91"/>
<line x1="567.30" y1="224.91" x2="564.30" y2="224.91"/>
<line x1="39.40" y1="223.35" x2="42.40" y2="223.35"/>
<line x1="567.30" y1="223.35" x2="564.30" y2="223.35"/>
<line x1="39.40" y1="221.97" x2="42.40" y2="221.97"/>
<line x1="567.30" y1="221.97" x2="564.30" y2="221.97"/>
<line x1="39.40" y1="220.74" x2="44.70" y2="220.74"/>
<line x1="567.30" y1="220.74" x2="562.00" y2="220.74"/>
<line x1="39.40" y1="212.63" x2="42.40" y2="212.63"/>
<line x1="567.30" y1="212.63" x2="564.30" y2="212.63"/>
<line x1="39.40" y1="207.89" x2="42.40" y2="207.89"/>
<line x1="567.30" y1="207.89" x2="564.30" y2="207.89"/>
<line x1="39.40" y1="204.53" x2="42.40" y2="204.53"/>
<line x1="567.30" y1="204.53" x2="564.30" y2="204.53"/>
<line x1="39.40" y1="201.92" x2="42.40" y2="201.92"/>
<line x1="567.30" y1="201.92" x2="564.30" y2="201.92"/>
<line x1="39.40" y1="199.78" x2="42.40" y2="199.78"/>
<line x1="567.30" y1="199.78" x2="564.30" y2="199.78"/>
<line x1="39.40" y1="197.98" x2="42.40" y2="197.98"/>
<line x1="567.30" y1="197.98" x2="564.30" y2="197.98"/>
<line x1="39.40" y1="196.42" x2="42.40" y2="196.42"/>
<line x1="567.30" y1="196.42" x2="564.30" y2="196.42"/>
<line x1="39.40" y1="195.04" x2="42.40" y2="195.04"/>
<line x1="567.30" y1="195.04" x2="564.30" y2="195.04"/>
<line x1="39.40" y1="193.81" x2="42.40" y2="193.81"/>
<line x1="567.30" y1="193.81" x2="564.30" y2="193.81"/>
<line x1="39.40" y1="185.70" x2="42.40" y2="185.70"/>
<line x1="567.30" y1="185.70" x2="564.30" y2="185.70"/>
<line x1="39.40" y1="180.96" x2="42.40" y2="180.96"/>
<line x1="567.30" y1="180.96" x2="564.30" y2="180.96"/>
<line x1="39.40" y1="177.60" x2="42.40" y2="177.60"/>
<line x1="567.30" y1="177.60" x2="564.30" y2="177.60"/>
<line x1="39.40" y1="174.99" x2="42.40" y2="174.99"/>
<line x1="567.30" y1="174.99" x2="564.30" y2="174.99"/>
<line x1="39.40" y1="172.85" x2="42.40" y2="172.85"/>
<line x1="567.30" y1="172.85" x2="564.30" y2="172.85"/>
<line x1="39.40" y1="171.05" x2="42.40" y2="171.05"/>
<line x1="567.30" y1="171.05" x2="564.30" y2="171.05"/>
<line x1="39.40" y1="169.49" x2="42.40" y2="169.49"/>
<line x1="567.30" y1="169.49" x2="564.30" y2="169.49"/>
<line x1="39.40" y1="168.11" x2="42.40" y2="168.11"/>
<line x1="567.30" y1="168.11" x2="564.30" y2="168.11"/>
<line x1="39.40" y1="166.88" x2="44.70" y2="166.88"/>
<line x1="567.30" y1="166.88" x2="562.00" y2="166.88"/>
<line x1="39.40" y1="158.77" x2="42.40" y2="158.77"/>
<line x1="567.30" y1="158.77" x2="564.30" y2="158.77"/>
<line x1="39.40" y1="154.03" x2="42.40" y2="154.03"/>
<line x1="567.30" y1="154.03" x2="564.30" y2="154.03"/>
<line x1="39.40" y1="150.67" x2="42.40" y2="150.67"/>
<line x1="567.30" y1="150.67" x2="564.30" y2="150.67"/>
<line x1="39.40" y1="148.06" x2="42.40" y2="148.06"/>
<line x1="567.30" y1="148.06" x2="564.30" y2="148.06"/>
<line x1="39.40" y1="145.92" x2="42.40" y2="145.92"/>
<line x1="567.30" y1="145.92" x2="564.30" y2="145.92"/>
<line x1="39.40" y1="144.12" x2="42.40" y2="144.12"/>
<line x1="567.30" y1="144.12" x2="564.30" y2="144.12"/>
<line x1="39.40" y1="142.56" x2="42.40" y2="142.56"/>
<line x1="567.30" y1="142.56" x2="564.30" y2="142.56"/>
<line x1="39.40" y1="141.18" x2="42.40" y2="141.18"/>
<line x1="567.30" y1="141.18" x2="564.30" y2="141.18"/>
<line x1="39.40" y1="139.95" x2="42.40" y2="139.95"/>
<line x1="567.30" y1="139.95" x2="564.30" y2="139.95"/>
<line x1="39.40" y1="131.84" x2="42.40" y2="131.84"/>
<line x1="567.30" y1="131.84" x2="564.30" y2="131.84"/>
<line x1="39.40" y1="127.10" x2="42.40" y2="127.10"/>
<line x1="567.30" y1="127.10" x2="564.30" y2="127.10"/>
<line x1="39.40" y1="123.74" x2="42.40" y2="123.74"/>
<line x1="567.30" y1="123.74" x2="564.30" y2="123.74"/>
<line x1="39.40" y1="121.13" x2="42.40" y2="121.13"/>
<line x1="567.30" y1="121.13" x2="564.30" y2="121.13"/>
<line x1="39.40" y1="118.99" x2="42.40" y2="118.99"/>
<line x1="567.30" y1="118.99" x2="564.30" y2="118.99"/>
<line x1="39.40" y1="117.19" x2="42.40" y2="117.19"/>
<line x1="567.30" y1="117.19" x2="564.30" y2="117.19"/>
<line x1="39.40" y1="115.63" x2="42.40" y2="115.63"/>
<line x1="567.30" y1="115.63" x2="564.30" y2="115.63"/>
<line x1="39.40" y1="114.25" x2="42.40" y2="114.25"/>
<line x1="567.30" y1="114.25" x2="564.30" y2="114.25"/>
<line x1="39.40" y1="113.02" x2="44.70" y2="113.02"/>
<line x1="567.30" y1="113.02" x2="562.00" y2="113.02"/>
<line x1="39.40" y1="104.91" x2="42.40" y2="104.91"/>
<line x1="567.30" y1="104.91" x2="564.30" y2="104.91"/>
<line x1="39.40" y1="100.17" x2="42.40" y2="100.17"/>
<line x1="567.30" y1="100.17" x2="564.30" y2="100.17"/>
<line x1="39.40" y1="96.81" x2="42.40" y2="96.81"/>
<line x1="567.30" y1="96.81" x2="564.30" y2="96.81"/>
<line x1="39.40" y1="94.20" x2="42.40" y2="94.20"/>
<line x1="567.30" y1="94.20" x2="564.30" y2="94.20"/>
<line x1="39.40" y1="92.06" x2="42.40" y2="92.06"/>
<line x1="567.30" y1="92.06" x2="564.30" y2="92.06"/>
<line x1="39.40" y1="90.26" x2="42.40" y2="90.26"/>
<line x1="567.30" y1="90.26" x2="564.30" y2="90.26"/>
<line x1="39.40" y1="88.70" x2="42.40" y2="88.70"/>
<line x1="567.30" y1="88.70" x2="564.30" y2="88.70"/>
<line x1="39.40" y1="87.32" x2="42.40" y2="87.32"/>
<line x1="567.30" y1="87.32" x2="564.30" y2="87.32"/>
<line x1="39.40" y1="86.09" x2="42.40" y2="86.09"/>
<line x1="567.30" y1="86.09" x2="564.30" y2="86.09"/>
<line x1="39.40" y1="77.98" x2="42.40" y2="77.98"/>
<line x1="567.30" y1="77.98" x2="564.30" y2="77.98"/>
<line x1="39.40" y1="73.24" x2="42.40" y2="73.24"/>
<line x1="567.30" y1="73.24" x2="564.30" y2="73.24"/>
<line x1="39.40" y1="69.88" x2="42.40" y2="69.88"/>
<line x1="567.30" y1="69.88" x2="564.30" y2="69.88"/>
<line x1="39.40" y1="67.27" x2="42.40" y2="67.27"/>
<line x1="567.30" y1="67.27" x2="564.30" y2="67.27"/>
<line x1="39.40" y1="65.13" x2="42.40" y2="65.13"/>
<line x1="567.30" y1="65.13" x2="564.30" y2="65.13"/>
<line x1="39.40" y1="63.33" x2="42.40" y2="63.33"/>
<line x1="567.30" y1="63.33" x2="564.30" y2="63.33"/>
<line x1="39.40" y1="61.77" x2="42.40" y2="61.77"/>
<line x1="567.30" y1="61.77" x2="564.30" y2="61.77"/>
<line x1="39.40" y1="60.39" x2="42.40" y2="60.39"/>
<line x1="567.30" y1="60.39" x2="564.30" y2="60.39"/>
<line x1="39.40" y1="59.16" x2="44.70" y2="59.16"/>
<line x1="567.30" y1="59.16" x2="562.00" y2="59.16"/>
<line x1="39.40" y1="51.05" x2="42.40" y2="51.05"/>
<line x1="567.30" y1="51.05" x2="564.30" y2="51.05"/>
<line x1="39.40" y1="46.31" x2="42.40" y2="46.31"/>
<line x1="567.30" y1="46.31" x2="564.30" y2="46.31"/>
<line x1="39.40" y1="42.95" x2="42.40" y2="42.95"/>
<line x1="567.30" y1="42.95" x2="564.30" y2="42.95"/>
<line x1="39.40" y1="40.34" x2="42.40" y2="40.34"/>
<line x1="567.30" y1="40.34" x2="564.30" y2="40.34"/>
<line x1="39.40" y1="38.20" x2="42.40" y2="38.20"/>
<line x1="567.30" y1="38.20" x2="564.30" y2="38.20"/>
<line x1="39.40" y1="36.40" x2="42.40" y2="36.40"/>
<line x1="567.30" y1="36.40" x2="564.30" y2="36.40"/>
<line x1="39.40" y1="34.84" x2="42.40" y2="34.84"/>
<line x1="567.30" y1="34.84" x2="564.30" y2="34.84"/>
<line x1="39.40" y1="33.46" x2="42.40" y2="33.46"/>
<line x1="567.30" y1="33.46" x2="564.30" y2="33.46"/>
<line x1="39.40" y1="32.23" x2="42.40" y2="32.23"/>
<line x1="567.30" y1="32.23" x2="564.30" y2="32.23"/>
<line x1="39.40" y1="24.12" x2="42.40" y2="24.12"/>
<line x1="567.30" y1="24.12" x2="564.30" y2="24.12"/>
<line x1="39.40" y1="19.38" x2="42.40" y2="19.38"/>
<line x1="567.30" y1="19.38" x2="564.30" y2="19.38"/>
<line x1="39.40" y1="16.02" x2="42.40" y2="16.02"/>
<line x1="567.30" y1="16.02" x2="564.30" y2="16.02"/>
<line x1="39.40" y1="13.41" x2="42.40" y2="13.41"/>
<line x1="567.30" y1="13.41" x2="564.30" y2="13.41"/>
<line x1="39.40" y1="11.27" x2="42.40" y2="11.27"/>
<line x1="567.30" y1="11.27" x2="564.30" y2="11.27"/>
<line x1="39.40" y1="9.47" x2="42.40" y2="9.47"/>
<line x1="567.30" y1="9.47" x2="564.30" y2="9.47"/>
<line x1="39.40" y1="7.91" x2="42.40" y2="7.91"/>
<line x1="567.30" y1="7.91" x2="564.30" y2="7.91"/>
<line x1="39.40" y1="6.53" x2="42.40" y2="6.53"/>
<line x1="567.30" y1="6.53" x2="564.30" y2="6.53"/>
<rect x="39.40" y="5.40" width="527.90" height="242.20" stroke-width="1.3"/>
</g>
<g font-size="10" fill="#1a1a1a" opacity="0.999">
<text x="39.70" y="260.8" text-anchor="middle">0</text>
<text x="92.49" y="260.8" text-anchor="middle">20</text>
<text x="145.28" y="260.8" text-anchor="middle">40</text>
<text x="198.07" y="260.8" text-anchor="middle">60</text>
<text x="250.86" y="260.8" text-anchor="middle">80</text>
<text x="303.65" y="260.8" text-anchor="middle">100</text>
<text x="356.44" y="260.8" text-anchor="middle">120</text>
<text x="409.23" y="260.8" text-anchor="middle">140</text>
<text x="462.02" y="260.8" text-anchor="middle">160</text>
<text x="514.81" y="260.8" text-anchor="middle">180</text>
<text x="567.60" y="260.8" text-anchor="middle">200</text>
<text x="24.8" y="10.80" text-anchor="end">10</text><text x="26" y="5.70" font-size="7.6">-14</text>
<text x="24.8" y="64.66" text-anchor="end">10</text><text x="26" y="59.56" font-size="7.6">-16</text>
<text x="24.8" y="118.52" text-anchor="end">10</text><text x="26" y="113.42" font-size="7.6">-18</text>
<text x="24.8" y="172.38" text-anchor="end">10</text><text x="26" y="167.28" font-size="7.6">-20</text>
<text x="24.8" y="226.24" text-anchor="end">10</text><text x="26" y="221.14" font-size="7.6">-22</text>
</g>
<text x="302.8" y="275" text-anchor="middle" font-size="12" fill="#1a1a1a" opacity="0.999">degree</text>
<text transform="translate(9.8,126.7) rotate(-90)" text-anchor="middle" font-size="11.9" fill="#1a1a1a" opacity="0.999">degree variances [unitless] Log scale</text>
<!-- legend -->
<rect x="336.3" y="168" width="219.7" height="68.6" fill="#ffffff" stroke="#1a1a1a" stroke-width="1.2"/>
<g fill="none" stroke-width="2.9">
<line x1="341.5" y1="177.2" x2="386" y2="177.2" stroke="#FF0000"/>
<line x1="341.5" y1="202.4" x2="386" y2="202.4" stroke="#EDB120"/>
<line x1="341.5" y1="215.3" x2="386" y2="215.3" stroke="#D95319"/>
<line x1="341.5" y1="228.4" x2="386" y2="228.4" stroke="#0072BD"/>
<line x1="425.4" y1="177.2" x2="470" y2="177.2" stroke="#FF00FF" stroke-dasharray="11 3 5.6 3.6"/>
<line x1="425.4" y1="202.4" x2="470" y2="202.4" stroke="#000" stroke-dasharray="11 12.2"/>
<line x1="425.4" y1="215.3" x2="470" y2="215.3" stroke="#000"/>
<line x1="425.4" y1="228.4" x2="470" y2="228.4" stroke="#000" stroke-dasharray="11 3 5.6 3.6"/>
</g>
<g font-size="9.6" fill="#000" opacity="0.999">
<text x="390.6" y="180.5">Signal</text>
<text x="390.6" y="206.3">Txx</text>
<text x="390.6" y="218.9">Tyy</text>
<text x="390.6" y="232">Tzz</text>
<text x="473.7" y="180.5">GRACE (1 month)</text>
<text x="473.7" y="206.3">no comp</text>
<text x="473.7" y="218.9">comp 1 nrad/s</text>
<text x="473.7" y="232">fully comp</text>
</g>
</svg>
</body></html>
